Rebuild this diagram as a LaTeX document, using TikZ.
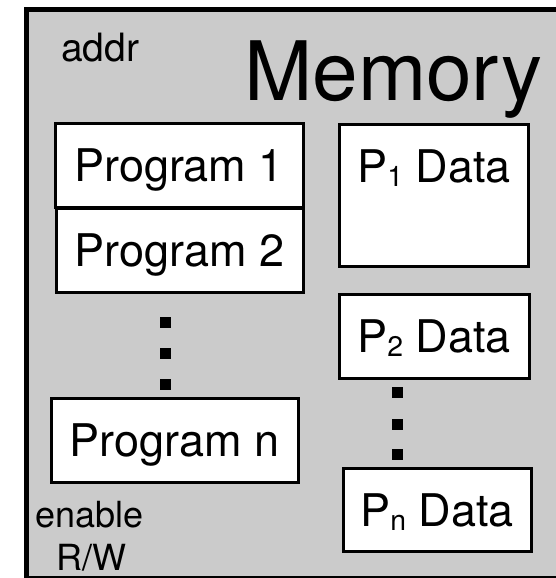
\documentclass[tikz,border=0pt]{standalone}
\usepackage{fontspec}
\setmainfont{TeX Gyre Heros}
\definecolor{memgray}{HTML}{CBCBCB}
\newcommand\psub[1]{\raisebox{-0.09em}{\scalebox{0.63}{#1}}}
\begin{document}
\begin{tikzpicture}[x=1pt,y=-1pt,
  outerbox/.style={draw=black,line width=5pt,fill=memgray},
  membox/.style={draw=black,line width=3pt,fill=white,inner sep=0pt,
    font=\fontsize{45}{54}\selectfont,text height=33pt,text depth=0pt},
  blockdot/.style={fill=black,inner sep=0pt,minimum size=11pt},
  plain/.style={inner sep=0pt}]
\useasboundingbox (0,0) rectangle (556,578);
\clip (0,0) rectangle (556,578);
% memory enclosure
\path[outerbox] (26,10) rectangle (640,578);
\node[plain,anchor=base west,font=\fontsize{82}{96}\selectfont] (title) at (244,100) {Memory};
\node[plain,anchor=base west,font=\fontsize{39}{46}\selectfont] (addr) at (61,62) {addr};
\node[plain,anchor=base west,font=\fontsize{36}{44}\selectfont] (en) at (35,527) {enable};
\node[plain,anchor=base west,font=\fontsize{36}{44}\selectfont] (rw) at (56,570) {R/W};
% program blocks
\node[membox,minimum width=248pt,minimum height=84pt] (prog1) at (179,165) {Program 1};
\node[membox,minimum width=247pt,minimum height=84pt] (prog2) at (179.5,250) {Program 2};
\node[membox,minimum width=247pt,minimum height=84pt] (progn) at (174.5,440) {Program n};
\node[blockdot] (ld1) at (165,322) {};
\node[blockdot] (ld2) at (165,353) {};
\node[blockdot] (ld3) at (165,384) {};
% data blocks
\node[membox,minimum width=189pt,minimum height=142pt,anchor=north west] (d1) at (338,123) {};
\node[plain,anchor=base,font=\fontsize{45}{54}\selectfont] (d1t) at ([yshift=-59pt]d1.north) {P\psub{1} Data};
\node[membox,minimum width=190pt,minimum height=84pt] (d2) at (434,336) {P\psub{2} Data};
\node[membox,minimum width=188pt,minimum height=83pt] (dn) at (437,509.5) {P\psub{n} Data};
\node[blockdot] (rd1) at (397,392) {};
\node[blockdot] (rd2) at (397,424) {};
\node[blockdot] (rd3) at (397,454) {};
\end{tikzpicture}
\end{document}
